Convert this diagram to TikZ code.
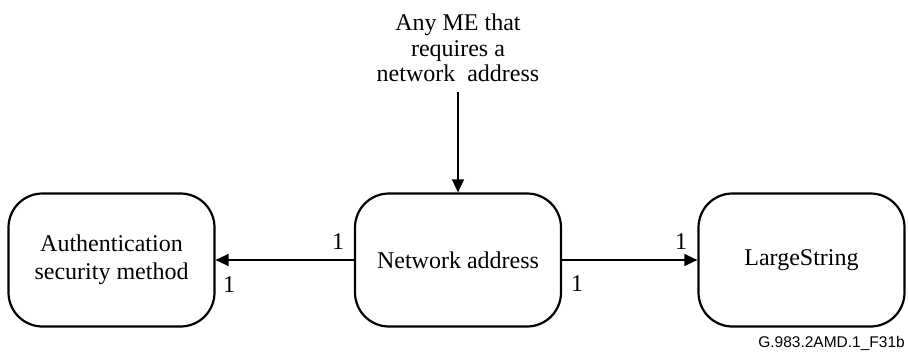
\documentclass[tikz,border=0pt]{standalone}
\usepackage{fontspec}
\setmainfont{Liberation Serif}
\setsansfont{Liberation Sans}
\usetikzlibrary{arrows.meta}
\begin{document}
\begin{tikzpicture}[x=1pt,y=-1pt,
  entity/.style={draw, line width=2.2pt, rounded corners=34pt, minimum width=206pt,
    minimum height=133pt, align=center, font=\fontsize{24}{28}\selectfont, inner sep=0pt},
  link/.style={line width=1.3pt, -{Triangle[length=13pt,width=12pt]}},
  mult/.style={font=\fontsize{24}{28}\selectfont, inner sep=0pt}]
\useasboundingbox (0,0) rectangle (908,353);
\node[entity] (auth) at (111.5,260) {Authentication\\security method};
\node[entity] (net) at (458,260) {Network address};
\node[entity] (str) at (801.5,260) {LargeString};
\node[align=center, font=\fontsize{24}{25.5}\selectfont, inner sep=0pt] (any) at (458,48)
  {Any ME that\\requires a\\network\ \ address};
\coordinate (anyend) at (458,92);
\draw[link] (anyend) -- (net.north);
\draw[link] (net.west) -- (auth.east);
\draw[link] (net.east) -- (str.west);
\node[mult] (m1) at (338,242) {1};
\node[mult] (m2) at (229,285) {1};
\node[mult] (m3) at (577,284) {1};
\node[mult] (m4) at (681,242) {1};
\node[font=\sffamily\fontsize{15.5}{18}\selectfont, anchor=east, inner sep=0pt] (fig) at (905,343) {G.983.2AMD.1\_F31b};
\end{tikzpicture}
\end{document}
